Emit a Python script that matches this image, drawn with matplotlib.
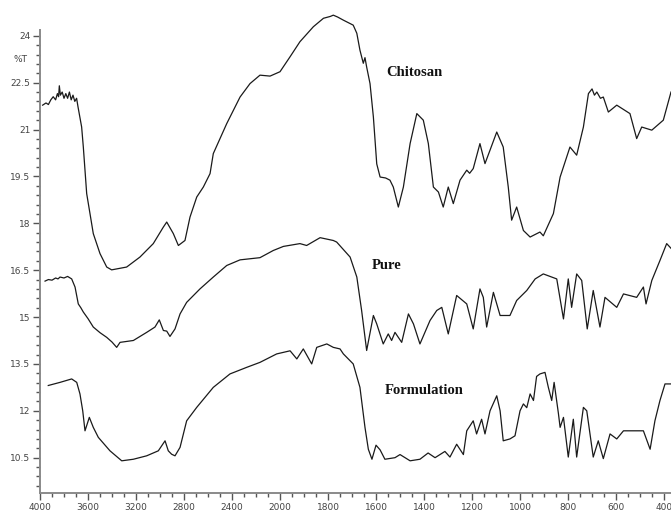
import numpy as np
import matplotlib
matplotlib.use("Agg")
import matplotlib.pyplot as plt
from matplotlib.ticker import FixedLocator, FixedFormatter

# ---- data (wavenumber cm-1, %T) ----
chitosan_wn = [3978, 3950, 3930, 3910, 3890, 3870, 3855, 3845, 3839, 3830, 3815, 3800, 3785,
               3770, 3755, 3740, 3725, 3710, 3695, 3683, 3653, 3639, 3611, 3583, 3556, 3500,
               3444, 3403, 3278, 3167, 3056, 2972, 2944, 2889, 2847, 2792, 2750, 2694, 2639,
               2583, 2556, 2444, 2333, 2250, 2167, 2083, 2000, 1958, 1917, 1861, 1819, 1790,
               1778, 1760, 1736, 1695, 1680, 1667, 1653, 1646, 1639, 1625, 1611, 1597, 1583,
               1560, 1542, 1528, 1507, 1486, 1458, 1430, 1403, 1382, 1361, 1340, 1320, 1299,
               1278, 1250, 1222, 1210, 1195, 1167, 1146, 1125, 1097, 1070, 1049, 1035, 1014,
               986, 958, 935, 917, 903, 861, 833, 792, 764, 736, 715, 700, 690, 680, 665,
               653, 632, 597, 542, 514, 493, 451, 403, 382, 371]
chitosan_t = [21.78, 21.85, 21.8, 21.95, 22.05, 21.95, 22.15, 22.05, 22.4, 22.1, 22.2, 22.0, 22.15,
              22.0, 22.2, 21.95, 22.1, 21.9, 22.0, 21.72, 21.08, 20.44, 18.95, 18.3, 17.67, 17.03,
              16.6, 16.51, 16.6, 16.92, 17.35, 17.88, 18.04, 17.67, 17.29, 17.45, 18.2, 18.84, 19.16,
              19.59, 20.23, 21.19, 22.04, 22.47, 22.74, 22.71, 22.85, 23.33, 23.81, 24.29, 24.56, 24.62,
              24.66, 24.6, 24.5, 24.34, 24.08, 23.54, 23.12, 23.3, 23.0, 22.47, 21.4, 19.9, 19.48,
              19.45, 19.38, 19.16, 18.52, 19.16, 20.55, 21.51, 21.3, 20.55, 19.16, 19.0, 18.52, 19.16,
              18.63, 19.38, 19.7, 19.6, 19.75, 20.55, 19.91, 20.34, 20.92, 20.44, 19.16, 18.1, 18.52,
              17.77, 17.56, 17.65, 17.72, 17.6, 18.31, 19.48, 20.44, 20.18, 21.08, 22.15, 22.3, 22.1, 22.2, 22.0,
              22.04, 21.56, 21.78, 21.51, 20.71, 21.08, 20.98, 21.3, 21.89, 22.2]

pure_wn = [3958, 3930, 3900, 3870, 3850, 3833, 3800, 3770, 3736, 3708, 3681, 3660, 3639, 3600,
           3556, 3500, 3444, 3400, 3361, 3333, 3222, 3111, 3042, 3006, 2972, 2944, 2917, 2875,
           2833, 2778, 2667, 2556, 2444, 2333, 2167, 2056, 1986, 1917, 1889, 1833, 1778, 1764,
           1708, 1680, 1660, 1639, 1611, 1597, 1570, 1549, 1535, 1521, 1493, 1465, 1444, 1417,
           1375, 1347, 1326, 1299, 1264, 1222, 1195, 1167, 1153, 1139, 1111, 1083, 1042, 1014,
           972, 937, 903, 875, 847, 819, 799, 785, 764, 743, 720, 695, 667, 646, 597, 569,
           514, 486, 475, 451, 417, 389, 371]
pure_t = [16.15, 16.2, 16.18, 16.25, 16.22, 16.28, 16.25, 16.3, 16.22, 15.96, 15.42, 15.3, 15.16, 14.95,
          14.68, 14.5, 14.35, 14.2, 14.03, 14.19, 14.25, 14.51, 14.68, 14.91, 14.57, 14.55, 14.38, 14.62,
          15.1, 15.47, 15.9, 16.28, 16.65, 16.83, 16.9, 17.13, 17.26, 17.35, 17.29, 17.54, 17.45, 17.4,
          16.92, 16.28, 15.21, 13.93, 15.05, 14.78, 14.14, 14.46, 14.25, 14.51, 14.19, 15.1, 14.78, 14.14,
          14.89, 15.21, 15.31, 14.46, 15.69, 15.42, 14.62, 15.9, 15.63, 14.68, 15.79, 15.05, 15.05, 15.53,
          15.85, 16.22, 16.38, 16.3, 16.22, 14.94, 16.22, 15.31, 16.38, 16.17, 14.62, 15.85, 14.68, 15.63, 15.31, 15.74,
          15.63, 15.96, 15.42, 16.17, 16.81, 17.35, 17.2]

form_wn = [3931, 3833, 3736, 3694, 3667, 3644, 3625, 3589, 3556, 3514, 3417, 3319, 3222, 3111,
           3014, 2958, 2931, 2903, 2875, 2833, 2778, 2694, 2556, 2417, 2278, 2167, 2028, 1958,
           1930, 1903, 1868, 1847, 1805, 1778, 1750, 1736, 1695, 1667, 1646, 1632, 1617, 1600,
           1583, 1563, 1521, 1500, 1458, 1417, 1383, 1354, 1313, 1292, 1264, 1236, 1222, 1195,
           1181, 1160, 1146, 1125, 1097, 1083, 1070, 1042, 1021, 1000, 986, 972, 958, 944, 931,
           917, 896, 882, 868, 858, 840, 833, 819, 799, 778, 764, 736, 722, 695, 674, 653, 625,
           597, 569, 528, 486, 458, 438, 417, 396, 371]
form_t = [12.81, 12.91, 13.02, 12.91, 12.54, 12.0, 11.36, 11.79, 11.47, 11.15, 10.72, 10.4, 10.45, 10.56,
          10.72, 11.04, 10.72, 10.61, 10.56, 10.83, 11.68, 12.11, 12.75, 13.18, 13.39, 13.55, 13.82, 13.92,
          13.66, 13.98, 13.5, 14.03, 14.14, 14.03, 13.98, 13.82, 13.5, 12.75, 11.47, 10.77, 10.45, 10.9,
          10.75, 10.45, 10.5, 10.6, 10.4, 10.45, 10.65, 10.5, 10.7, 10.52, 10.93, 10.6, 11.36, 11.68,
          11.26, 11.73, 11.26, 12.0, 12.48, 12.0, 11.04, 11.1, 11.2, 12.0, 12.22, 12.1, 12.54, 12.33, 13.1,
          13.18, 13.23, 12.75, 12.33, 12.91, 11.91, 11.47, 11.79, 10.52, 11.73, 10.52, 12.11, 12.0, 10.52, 11.04, 10.47, 11.26,
          11.1, 11.36, 11.36, 11.36, 10.77, 11.68, 12.33, 12.86, 12.86]

series_labels = ["Chitosan", "Pure", "Formulation"]
label_pos_wn = [1442, 1554, 1400]
label_pos_t = [22.84, 16.65, 12.65]

x_major = [4000, 3600, 3200, 2800, 2400, 2000, 1800, 1600, 1400, 1200, 1000, 800, 600, 400]
y_major = [10.5, 12, 13.5, 15, 16.5, 18, 19.5, 21, 22.5, 24]
y_major_labels = ["10.5", "12", "13.5", "15", "16.5", "18", "19.5", "21", "22.5", "24"]


# piecewise-linear wavenumber scale (scale doubles below 2000 cm-1)
def fwd(w):
    w = np.asarray(w, dtype=float)
    return np.where(w >= 2000, 5 + (w - 2000) / 400.0, 5 + (w - 2000) / 200.0)


def inv(p):
    p = np.asarray(p, dtype=float)
    return np.where(p >= 5, 2000 + 400.0 * (p - 5), 2000 + 200.0 * (p - 5))


fig = plt.figure(figsize=(6.71, 5.14), dpi=100)
ax = fig.add_axes([40 / 671, 21 / 514, 631 / 671, (493 - 1.4) / 514])
ax.set_xscale('function', functions=(fwd, inv))

for wn, t in [(chitosan_wn, chitosan_t), (pure_wn, pure_t), (form_wn, form_t)]:
    ax.plot(wn, t, color='#1a1a1a', lw=0.9, solid_joinstyle='round')

ax.set_xlim(4000, 371)
ax.set_ylim(9.37, 25.1)

for name, xw, yt in zip(series_labels, label_pos_wn, label_pos_t):
    ax.text(xw, yt, name, ha='center', va='center', fontsize=10.5, fontweight='bold',
            family='Liberation Serif', color='#111111')

for s in ['top', 'right']:
    ax.spines[s].set_visible(False)
ax.spines['left'].set_bounds(9.37, 24.18)
for s in ['left', 'bottom']:
    ax.spines[s].set_color('#8a8a8a')
    ax.spines[s].set_linewidth(1.4)

ax.xaxis.set_major_locator(FixedLocator(x_major))
ax.xaxis.set_major_formatter(FixedFormatter([str(v) for v in x_major]))
minor_x = list(range(3900, 2000, -100)) + list(range(1950, 370, -50))
minor_x = [m for m in minor_x if m not in x_major]
ax.xaxis.set_minor_locator(FixedLocator(minor_x))

ax.yaxis.set_major_locator(FixedLocator(y_major))
ax.yaxis.set_major_formatter(FixedFormatter(y_major_labels))
minor_y = [round(9.6 + 0.3 * i, 2) for i in range(49)]
minor_y = [m for m in minor_y if m <= 24.1 and all(abs(m - M) > 0.05 for M in y_major)]
ax.yaxis.set_minor_locator(FixedLocator(minor_y))

ax.tick_params(axis='both', which='major', length=5, width=1, color='#555555',
               labelsize=6.5, labelcolor='#444444', pad=2)
ax.tick_params(axis='both', which='minor', length=3, width=1, color='#555555')

ax.text(-0.02, 23.25, "%T", transform=ax.get_yaxis_transform(), ha='right', va='center',
        fontsize=6.5, color='#444444')
ax.text(395, -0.045, "1/cm", transform=ax.get_xaxis_transform(), ha='left', va='top',
        fontsize=5, color='#444444')

fig.savefig("out.png", dpi=100)
